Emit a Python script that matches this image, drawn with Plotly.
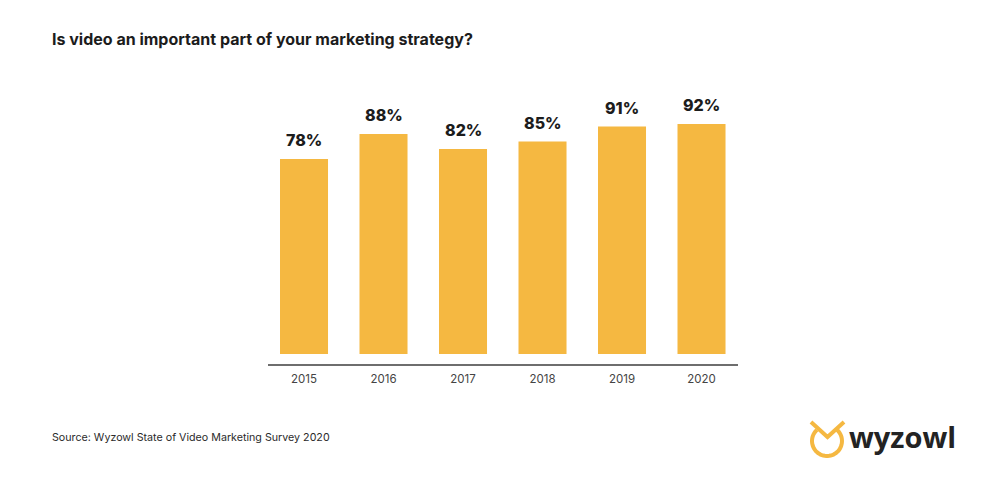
import numpy as np
import plotly.graph_objects as go

# Values
years = ['2015', '2016', '2017', '2018', '2019', '2020']
shares = [78, 88, 82, 85, 91, 92]
share_labels = ['78%', '88%', '82%', '85%', '91%', '92%']

W, H = 985, 492
LEFT, RIGHT, TOP, BOTTOM = 268, 738, 64, 364


# pixel position on the page -> paper coordinates
def px(x):
    return (x - LEFT) / (RIGHT - LEFT)


def py(y):
    return (BOTTOM - y) / (BOTTOM - TOP)


fig = go.Figure()

fig.add_trace(go.Bar(
    x=years, y=shares, width=0.604,
    marker=dict(color='#F5B841', line=dict(width=0)),
    hoverinfo='x+y', showlegend=False,
))

# Logo: owl ring with ears, then the wordmark
angles = np.radians(np.linspace(-48, 228, 50))
ring = 'M ' + ' L '.join(f'{px(827 + 15 * np.cos(a)):.4f},{py(441 + 15 * np.sin(a)):.4f}' for a in angles)
ears = f'M {px(811)},{py(422)} L {px(827.5)},{py(437)} L {px(844)},{py(422)}'
shapes = [
    dict(type='path', xref='paper', yref='paper', path=ring, line=dict(color='#F5B841', width=4)),
    dict(type='path', xref='paper', yref='paper', path=ears, line=dict(color='#F5B841', width=4)),
]

annotations = [
    dict(text='<b>Is video an important part of your marketing strategy?</b>',
         xref='paper', yref='paper', x=px(50), y=py(39), xanchor='left', yanchor='middle', showarrow=False,
         font=dict(family='Inter', size=16, color='#1C1C1C')),
    dict(text='Source: Wyzowl State of Video Marketing Survey 2020',
         xref='paper', yref='paper', x=px(50), y=py(437), xanchor='left', yanchor='middle', showarrow=False,
         font=dict(family='Inter', size=10.7, color='#2B2B2B')),
    dict(text='<b>wyzowl</b>',
         xref='paper', yref='paper', x=px(847), y=py(436), xanchor='left', yanchor='middle', showarrow=False,
         font=dict(family='Open Sans', size=29, color='#232323')),
]

# Value labels sit well above the bars
# (numeric looking categories are read as positions, so use the index for x)
for i, (share, label) in enumerate(zip(shares, share_labels)):
    annotations.append(dict(x=i, y=share, xref='x', yref='y', text=label, showarrow=False,
                            yanchor='middle', yshift=19,
                            font=dict(family='Inter', size=16, color='#1C1C1C', weight=800)))

fig.update_layout(
    width=W, height=H,
    margin=dict(l=LEFT, r=W - RIGHT, t=TOP, b=H - BOTTOM, autoexpand=False),
    paper_bgcolor='white', plot_bgcolor='white',
    shapes=shapes, annotations=annotations,
    xaxis=dict(type='category', range=[-0.453, 5.459], showgrid=False,
               ticks='outside', ticklen=3, tickcolor='rgba(0,0,0,0)',
               showline=True, linecolor='#6E6E6E', linewidth=1.5,
               tickfont=dict(family='Inter', size=11.5, color='#444444')),
    yaxis=dict(range=[-4, 116], showticklabels=False, ticks='', showline=False,
               showgrid=False, zeroline=False),
)

# the page's default body margin would push the chart 8px off
fig.write_html("out.html", config=dict(displayModeBar=False),
               post_script="document.body.style.margin='0';")
